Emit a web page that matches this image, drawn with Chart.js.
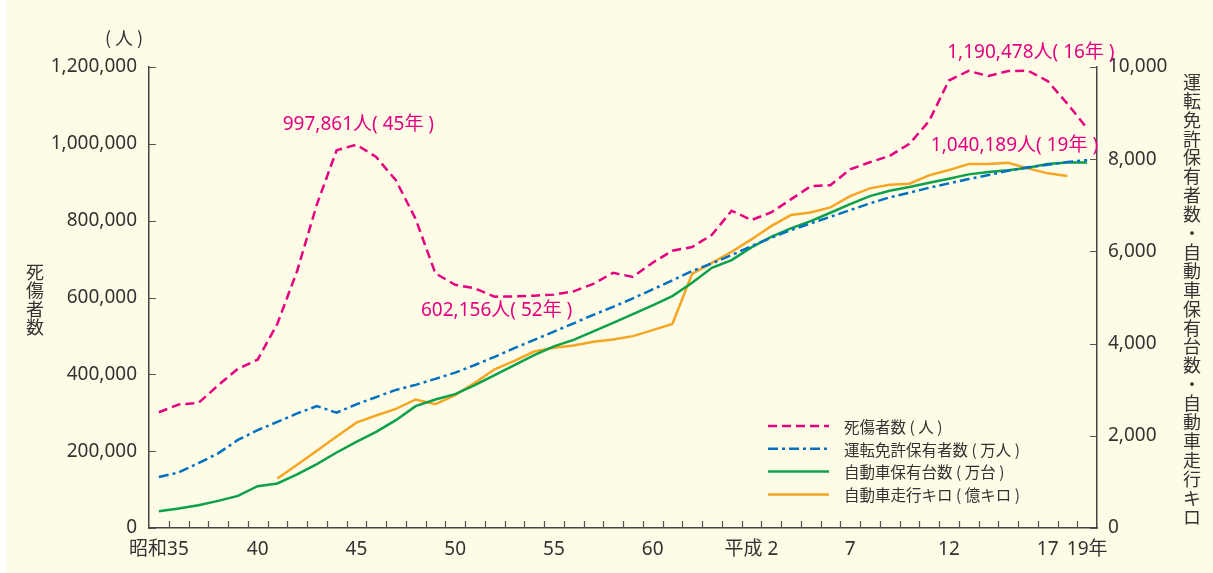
<!DOCTYPE html>
<html lang="ja">
<head>
<meta charset="utf-8">
<title>交通事故死傷者数等の推移</title>
<script src="https://cdn.jsdelivr.net/npm/chart.js@4.4.1/dist/chart.umd.min.js"></script>
<style>
  html, body { margin: 0; padding: 0; background: #fff; }
  #wrap { width: 1213px; height: 573px; }
</style>
</head>
<body>
<div id="wrap"><canvas id="trafficChart" width="1213" height="573"></canvas></div>
<script>
// 昭和35年(1960) ～ 平成19年(2007)
const xTickText = [
  '昭和35', '', '', '', '', '40', '', '', '', '', '45', '', '', '', '', '50',
  '', '', '', '', '55', '', '', '', '', '60', '', '', '', '', '平成 2', '',
  '', '', '', '7', '', '', '', '', '12', '', '', '', '', '17', '', '19年'
];

// 死傷者数（人）
const casualties = [
  301211, 321562, 325258, 371390, 414435, 438150, 531679, 668995, 842327, 983257,
  997861, 965967, 905116, 804522, 662852, 633259, 623691, 602156, 602899, 604748,
  607479, 616065, 635265, 664342, 653583, 690607, 721647, 731526, 763189, 825918,
  801522, 821354, 855455, 889578, 892376, 933361, 952147, 968567, 999889, 1059411,
  1164780, 1189796, 1176425, 1189449, 1190478, 1163504, 1104551, 1040189
];

// 運転免許保有者数（万人）
const licenseHolders = [
  1105, 1205, 1405, 1620, 1910, 2122, 2302, 2485, 2643, 2502,
  2683, 2840, 2995, 3105, 3235, 3370, 3536, 3713, 3900, 4080,
  4260, 4440, 4624, 4798, 4980, 5175, 5371, 5573, 5740, 5920,
  6115, 6295, 6462, 6608, 6751, 6896, 7042, 7172, 7272, 7380,
  7476, 7569, 7656, 7749, 7823, 7879, 7938, 7981
];

// 自動車保有台数（万台）
const vehicles = [
  365, 423, 495, 588, 697, 907, 966, 1161, 1384, 1638,
  1868, 2085, 2339, 2643, 2788, 2903, 3099, 3316, 3533, 3750,
  3940, 4080, 4264, 4451, 4639, 4828, 5030, 5320, 5645, 5811,
  6087, 6317, 6499, 6658, 6838, 7026, 7200, 7315, 7395, 7489,
  7576, 7671, 7721, 7758, 7814, 7894, 7931, 7931
];

// 自動車走行キロ（億キロ）
const vehicleKm = [
  null, null, null, null, null, null, 1074, 1370, 1678, 1985,
  2285, 2440, 2585, 2788, 2686, 2882, 3149, 3442, 3626, 3828,
  3909, 3960, 4038, 4090, 4162, 4292, 4425, 5512, 5753, 5992,
  6260, 6549, 6788, 6846, 6955, 7200, 7367, 7446, 7467, 7649,
  7764, 7894, 7894, 7923, 7801, 7693, 7634, null
];

const leftTicks = [0, 200000, 400000, 600000, 800000, 1000000, 1200000];
const rightTicks = [0, 2000, 4000, 6000, 8000, 10000];

const callouts = [
  { index: 10, text: '997,861人( 45年 )', dx: 2, dy: -20, align: 'center' },
  { index: 17, text: '602,156人( 52年 )', dx: 2, dy: 14, align: 'center' },
  { index: 44, text: '1,190,478人( 16年 )', dx: 3, dy: -18, align: 'center' },
  { index: 47, text: '1,040,189人( 19年 )', dx: 11, dy: 17, align: 'right' }
];

const PINK = '#E5007F';
const BLUE = '#0070C0';
const GREEN = '#0BA04A';
const ORANGE = '#F6A623';
const INK = '#333333';
const NUM_FONT = "'Noto Sans', 'Noto Sans CJK JP', sans-serif";
const JP_FONT = "'Noto Sans CJK JP', 'Noto Sans', sans-serif";

const panelBg = {
  id: 'panelBg',
  beforeDraw(chart) {
    const { ctx, width, height } = chart;
    ctx.save();
    ctx.fillStyle = '#ffffff';
    ctx.fillRect(0, 0, width, height);
    ctx.fillStyle = '#FEFCE7';
    ctx.fillRect(7, 0, width - 7, height);
    ctx.restore();
  }
};

// tick marks point inward, like the printed chart
const innerTicks = {
  id: 'innerTicks',
  afterDraw(chart) {
    const { ctx, chartArea: a, scales } = chart;
    const n = chart.data.labels.length;
    const w = (a.right - a.left) / n;
    ctx.save();
    ctx.strokeStyle = '#555';
    ctx.lineWidth = 1.2;
    ctx.beginPath();
    for (let k = 1; k < n; k++) {
      const x = Math.round(a.left + k * w) + 0.5;
      ctx.moveTo(x, a.bottom);
      ctx.lineTo(x, a.bottom - 7);
    }
    leftTicks.forEach(v => {
      const y = Math.round(scales.y.getPixelForValue(v)) + 0.5;
      ctx.moveTo(a.left, y);
      ctx.lineTo(a.left + 7, y);
    });
    rightTicks.forEach(v => {
      const y = Math.round(scales.y2.getPixelForValue(v)) + 0.5;
      ctx.moveTo(a.right, y);
      ctx.lineTo(a.right - 7, y);
    });
    ctx.stroke();
    ctx.restore();
  }
};

const textBits = {
  id: 'textBits',
  afterDraw(chart) {
    const { ctx } = chart;
    ctx.save();
    ctx.fillStyle = INK;
    ctx.textAlign = 'center';
    ctx.textBaseline = 'middle';
    ctx.font = '18px ' + JP_FONT;
    ctx.fillText('( 人 )', 124, 38);

    const leftTitle = '死傷者数';
    [...leftTitle].forEach((ch, i) => ctx.fillText(ch, 35, 272 + i * 18.4));

    const rightTitle = '運転免許保有者数・自動車保有台数・自動車走行キロ';
    [...rightTitle].forEach((ch, i) => ctx.fillText(ch, 1192, 82 + i * 18.9));

    // callouts
    const pts = chart.getDatasetMeta(0).data;
    ctx.fillStyle = PINK;
    ctx.font = '19px ' + NUM_FONT;
    callouts.forEach(c => {
      const p = pts[c.index];
      ctx.textAlign = c.align;
      ctx.fillText(c.text, p.x + c.dx, p.y + c.dy);
    });

    // legend
    ctx.textAlign = 'left';
    ctx.font = '15.5px ' + JP_FONT;
    chart.data.datasets.forEach((ds, i) => {
      const y = 426 + i * 22.8;
      ctx.save();
      ctx.strokeStyle = ds.borderColor;
      ctx.lineWidth = 2.5;
      ctx.setLineDash(ds.borderDash || []);
      ctx.beginPath();
      ctx.moveTo(768, y);
      ctx.lineTo(829, y);
      ctx.stroke();
      ctx.restore();
      ctx.fillStyle = INK;
      ctx.fillText(ds.label, 844, y + 1);
    });
    ctx.restore();
  }
};

const ctx = document.getElementById('trafficChart').getContext('2d');
const trafficChart = new Chart(ctx, {
  type: 'line',
  data: {
    labels: xTickText,
    datasets: [
      {
        label: '死傷者数 ( 人 )',
        data: casualties,
        yAxisID: 'y',
        borderColor: PINK,
        borderWidth: 2.5,
        borderDash: [9, 5]
      },
      {
        label: '運転免許保有者数 ( 万人 )',
        data: licenseHolders,
        yAxisID: 'y2',
        borderColor: BLUE,
        borderWidth: 2.5,
        borderDash: [10, 4, 3, 4]
      },
      {
        label: '自動車保有台数 ( 万台 )',
        data: vehicles,
        yAxisID: 'y2',
        borderColor: GREEN,
        borderWidth: 2.5
      },
      {
        label: '自動車走行キロ ( 億キロ )',
        data: vehicleKm,
        yAxisID: 'y2',
        borderColor: ORANGE,
        borderWidth: 2.5
      }
    ]
  },
  options: {
    responsive: false,
    animation: false,
    devicePixelRatio: 1,
    layout: { padding: { top: 67, left: 0, right: 0, bottom: 0 } },
    elements: {
      point: { radius: 0 },
      line: { tension: 0, fill: false }
    },
    plugins: {
      legend: { display: false },
      tooltip: { enabled: false }
    },
    scales: {
      x: {
        type: 'category',
        offset: true,
        grid: { display: false, drawTicks: false, offset: true },
        border: { display: true, color: '#444', width: 1.5 },
        ticks: {
          autoSkip: false,
          maxRotation: 0,
          padding: 10,
          color: INK,
          font: { family: NUM_FONT, size: 19 }
        },
        afterFit(scale) { scale.height = 45; }
      },
      y: {
        position: 'left',
        min: 0,
        max: 1200000,
        grid: { display: false, drawTicks: false },
        border: { display: true, color: '#444', width: 1.5 },
        afterBuildTicks(scale) { scale.ticks = leftTicks.map(v => ({ value: v })); },
        ticks: {
          padding: 12,
          color: INK,
          font: { family: NUM_FONT, size: 19 },
          callback: v => v.toLocaleString('en-US')
        },
        afterFit(scale) { scale.width = 149; }
      },
      y2: {
        position: 'right',
        min: 0,
        max: 10000,
        grid: { display: false, drawTicks: false },
        border: { display: true, color: '#444', width: 1.5 },
        afterBuildTicks(scale) { scale.ticks = rightTicks.map(v => ({ value: v })); },
        ticks: {
          padding: 11,
          color: INK,
          font: { family: NUM_FONT, size: 19 },
          callback: v => v.toLocaleString('en-US')
        },
        afterFit(scale) { scale.width = 116; }
      }
    }
  },
  plugins: [panelBg, innerTicks, textBits]
});
</script>
</body>
</html>
